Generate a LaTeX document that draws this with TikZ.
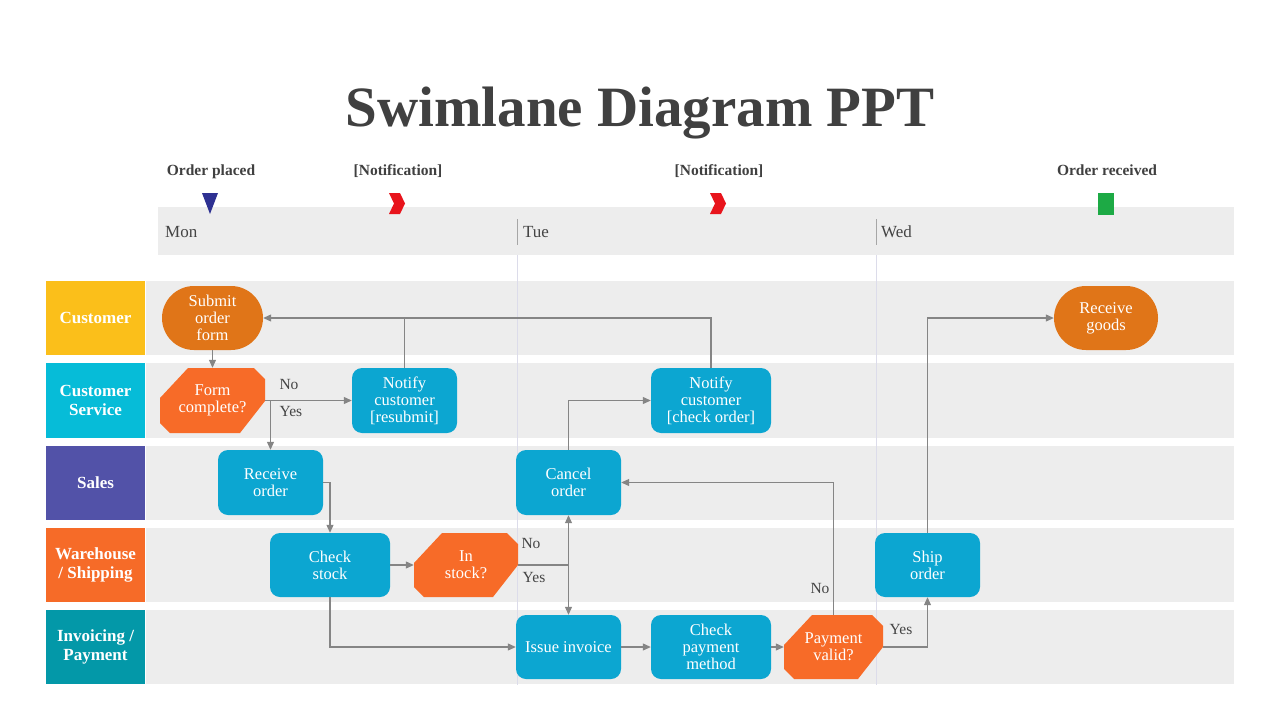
\documentclass[tikz,border=0pt]{standalone}
\usepackage{fontspec}
\setmainfont{Liberation Serif}
\usetikzlibrary{arrows.meta}
\definecolor{titlegray}{HTML}{404040}
\definecolor{lanegray}{HTML}{EDEDED}
\definecolor{cuyellow}{HTML}{FBBF1A}
\definecolor{cscyan}{HTML}{06BCD8}
\definecolor{sapurple}{HTML}{5252A8}
\definecolor{whorange}{HTML}{F66B28}
\definecolor{inteal}{HTML}{0398A8}
\definecolor{procblue}{HTML}{0CA6D1}
\definecolor{pillorange}{HTML}{E07518}
\definecolor{decorange}{HTML}{F76B28}
\definecolor{mkblue}{HTML}{2E3192}
\definecolor{mkred}{HTML}{E8141C}
\definecolor{mkgreen}{HTML}{1DAA45}
\definecolor{linegray}{HTML}{858585}
\definecolor{divlight}{HTML}{DCDCEA}
\definecolor{txtgray}{HTML}{444444}
\newcommand{\nfont}{\fontsize{16.5}{17}\selectfont}
\begin{document}
\begin{tikzpicture}[x=1pt,y=-1pt,
  proc/.style={fill=procblue, rounded corners=10pt, minimum width=105pt, minimum height=65pt, text=white, align=center, font=\nfont, inner sep=0pt},
  procw/.style={proc, minimum width=120pt},
  pill/.style={fill=pillorange, rounded corners=32pt, minimum width=101pt, minimum height=64pt, text=white, align=center, font=\nfont, inner sep=0pt},
  decision/.style={minimum width=105pt, minimum height=65pt, text=white, align=center, font=\nfont, inner sep=0pt,
    path picture={\fill[decorange]
      ([xshift=28pt]path picture bounding box.north west) --
      ([xshift=-11pt]path picture bounding box.north east) --
      ([yshift=-11pt]path picture bounding box.north east) --
      ([yshift=32pt]path picture bounding box.south east) --
      ([xshift=-25pt]path picture bounding box.south east) --
      ([xshift=10pt]path picture bounding box.south west) --
      ([yshift=10pt]path picture bounding box.south west) --
      ([yshift=-30pt]path picture bounding box.north west) -- cycle;}},
  lanelbl/.style={minimum width=99pt, minimum height=74pt, text=white, align=center, font=\fontsize{17}{19}\selectfont\bfseries, inner sep=0pt},
  evt/.style={font=\fontsize{15.5}{17}\selectfont\bfseries, text=titlegray, anchor=base, inner sep=0pt},
  day/.style={font=\fontsize{17}{18}\selectfont, text=txtgray, anchor=base west, inner sep=0pt},
  lbl/.style={font=\fontsize{15.5}{17}\selectfont, text=txtgray, inner sep=0pt},
  line/.style={draw=linegray, line width=1.1pt},
  conn/.style={line, -{Triangle[length=8pt,width=7pt]}}
]
\useasboundingbox[fill=white] (0,0) rectangle (1280,720);

% title
\node[font=\fontsize{57}{60}\selectfont\bfseries, text=titlegray, anchor=base, inner sep=0pt] (title) at (640,126) {Swimlane Diagram PPT};

% timeline band
\fill[lanegray] (158,207) rectangle (1234,255);
\draw[draw=black!35, line width=0.8pt] (517,219) -- (517,245);
\draw[draw=black!35, line width=0.8pt] (876,219) -- (876,245);
\node[day] (mon) at (165,237) {Mon};
\node[day] (tue) at (523,237) {Tue};
\node[day] (wed) at (881,237) {Wed};

% events
\node[evt] (e1) at (211,175) {Order placed};
\node[evt] (e2) at (398,175) {[Notification]};
\node[evt] (e3) at (719,175) {[Notification]};
\node[evt] (e4) at (1107,175) {Order received};
\fill[mkblue] (202,193) -- (218,193) -- (210,214) -- cycle;
\fill[mkred] (389,193) -- (400,193) -- (405,203.5) -- (400,214) -- (389,214) -- (394,203.5) -- cycle;
\fill[mkred] (710,193) -- (721,193) -- (726,203.5) -- (721,214) -- (710,214) -- (715,203.5) -- cycle;
\fill[mkgreen] (1098,193) rectangle (1114,215);

% lanes
\fill[lanegray] (146,281) rectangle (1234,355);
\fill[lanegray] (146,363) rectangle (1234,438);
\fill[lanegray] (146,446) rectangle (1234,520);
\fill[lanegray] (146,528) rectangle (1234,602);
\fill[lanegray] (146,610) rectangle (1234,684);
\node[lanelbl, fill=cuyellow] (l1) at (95.5,318) {Customer};
\node[lanelbl, fill=cscyan, minimum height=75pt] (l2) at (95.5,400.5) {Customer\\Service};
\node[lanelbl, fill=sapurple] (l3) at (95.5,483) {Sales};
\node[lanelbl, fill=whorange] (l4) at (95.5,565) {Warehouse\\/ Shipping};
\node[lanelbl, fill=inteal] (l5) at (95.5,647) {Invoicing /\\Payment};

% day dividers through lanes
\draw[divlight, line width=0.8pt] (517,255) -- (517,685);
\draw[divlight, line width=0.8pt] (876,255) -- (876,685);

% nodes
\node[pill] (sof) at (212.5,318) {Submit\\order\\form};
\node[pill, minimum width=104pt] (rg) at (1106,318) {Receive\\goods};
\node[decision] (fc) at (212.5,400.5) {Form\\complete?};
\node[proc] (nr) at (404.5,400.5) {Notify\\customer\\{}[resubmit]};
\node[procw] (nc) at (711,400.5) {Notify\\customer\\{}[check order]};
\node[proc] (ro) at (270.5,482.5) {Receive\\order};
\node[proc] (co) at (568.5,482.5) {Cancel\\order};
\node[procw, minimum height=64pt] (cs) at (330,565) {Check\\stock};
\node[decision, minimum width=104pt, minimum height=64pt] (is) at (466,565) {In\\stock?};
\node[proc, minimum height=64pt] (so) at (927.5,565) {Ship\\order};
\node[proc, minimum height=64pt] (ii) at (568.5,647) {Issue invoice};
\node[procw, minimum height=64pt] (cp) at (711,647) {Check\\payment\\method};
\node[decision, minimum width=99pt, minimum height=64pt] (pv) at (833.5,647) {Payment\\valid?};

% connectors
\draw[conn] (sof.south) -- (fc.north);
\draw[conn] (fc.east) -- (nr.west);
\draw[conn] (fc.east -| ro.north) -- (ro.north);
\draw[conn] (nr.north) |- (sof.east);
\draw[line] (nc.north) |- (nr.north |- sof.east);
\draw[conn] (ro.east) -| (cs.north);
\draw[conn] (cs.east) -- (is.west);
\coordinate (j) at (is.east -| co.south);
\draw[line] (is.east) -- (j);
\draw[conn] (j) -- (co.south);
\draw[conn] (j) -- (ii.north);
\draw[conn] (cs.south) |- (ii.west);
\draw[conn] (ii.east) -- (cp.west);
\draw[conn] (cp.east) -- (pv.west);
\draw[conn] (pv.north) |- (co.east);
\draw[conn] (pv.east) -| (so.south);
\draw[conn] (co.north) |- (nc.west);
\draw[conn] (so.north) |- (rg.west);

% connector labels
\node[lbl] (n1) at (289,384) {No};
\node[lbl] (y1) at (291,411) {Yes};
\node[lbl] (n2) at (531,543) {No};
\node[lbl] (y2) at (534,577) {Yes};
\node[lbl] (n3) at (820,588) {No};
\node[lbl] (y3) at (901,629) {Yes};
\end{tikzpicture}
\end{document}
